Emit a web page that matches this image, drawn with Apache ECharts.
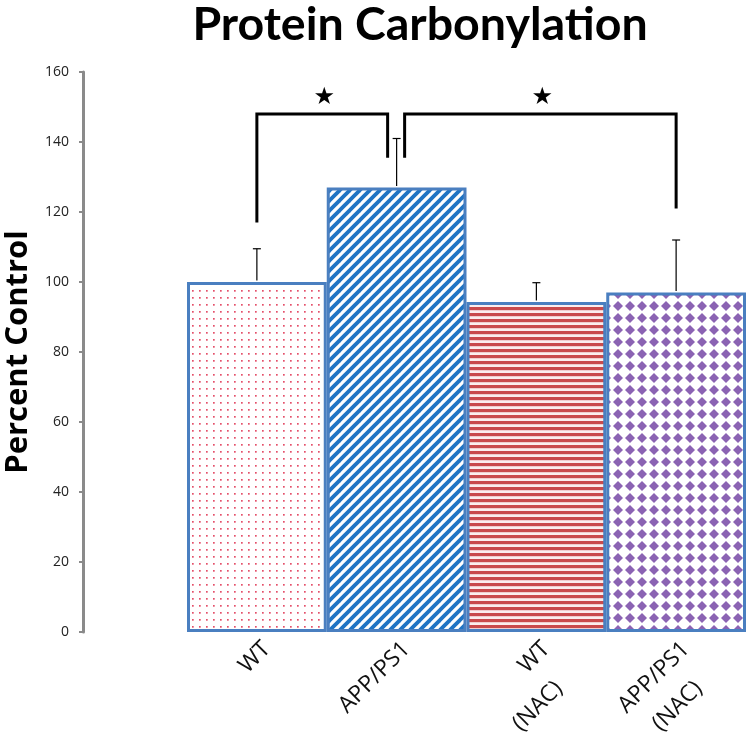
<!DOCTYPE html>
<html>
<head>
<meta charset="utf-8">
<script src="https://cdn.jsdelivr.net/npm/echarts@6/dist/echarts.min.js"></script>
<style>html,body{margin:0;padding:0;background:#fff}#c{width:750px;height:745px}</style>
</head>
<body>
<div id="c"></div>
<script>
// ---- data ----
const categories = ['WT', 'APP/PS1', 'WT\n(NAC)', 'APP/PS1\n(NAC)'];
const values = [100, 127, 94.3, 97];
const errors = [9.5, 14, 5.5, 15];
const yTicks = [0, 20, 40, 60, 80, 100, 120, 140, 160];
// brackets: [fromCat, toCat, leftLegBottom, top, rightLegBottom]
const brackets = [[0, 1, 117, 148, 135.5], [1, 3, 135.5, 148, 121]];
const bracketLabels = ['★', '★'];

// ---- patterns (style) ----
function mk(w, h, draw) {
  const c = document.createElement('canvas'); c.width = w; c.height = h;
  const g = c.getContext('2d'); g.fillStyle = '#fff'; g.fillRect(0, 0, w, h); draw(g); return c;
}
const pDots = mk(7, 7, g => { g.fillStyle = '#e4506a'; g.fillRect(3, 3, 1.7, 1.7); });
const pDiag = mk(10, 10, g => {
  g.strokeStyle = '#1f74c4'; g.lineWidth = 3.8; g.lineCap = 'square';
  [-10, 0, 10].forEach(ox => { g.beginPath(); g.moveTo(ox - 3, 13); g.lineTo(ox + 13, -3); g.stroke(); });
});
const pHoriz = mk(4, 6, g => { g.fillStyle = '#fbeeee'; g.fillRect(0, 0, 4, 6); g.fillStyle = '#c94a4c'; g.fillRect(0, 1, 4, 3.2); });
const pDiam = mk(12, 12, g => {
  g.fillStyle = '#8b63b3'; g.beginPath(); g.moveTo(6, 1); g.lineTo(11, 6); g.lineTo(6, 11); g.lineTo(1, 6); g.closePath(); g.fill();
});
const patterns = [pDots, pDiag, pHoriz, pDiam];

const chart = echarts.init(document.getElementById('c'), null, { renderer: 'canvas' });
const bracketInsets = [[0, -9], [8, 0]];

chart.setOption({
  animation: false,
  title: {
    text: 'Protein Carbonylation', left: 415, top: -4, textAlign: 'center',
    textStyle: { fontFamily: 'Lato', fontWeight: 'bold', fontSize: 46.5, color: '#000' }
  },
  grid: { left: 187, right: 4, top: 72, bottom: 113, outerBoundsMode: 'none', containLabel: false },
  xAxis: {
    type: 'category', data: categories,
    axisLine: { show: false }, axisTick: { show: false },
    axisLabel: {
      rotate: 45, interval: 0, margin: 5, padding: [0, -1, 0, 0], verticalAlign: 'top',
      formatter: v => v.split('\n').map((s, k) => (k === 0 ? '{a|' : '{b|') + s + '}').join('\n'),
      rich: {
        a: { fontSize: 23, color: '#111', fontFamily: 'Open Sans', lineHeight: 26 },
        b: { fontSize: 23, color: '#111', fontFamily: 'Open Sans', lineHeight: 48, padding: [0, 19, 0, 0] }
      }
    }
  },
  yAxis: {
    type: 'value', min: 0, max: 160, interval: 20, offset: 104,
    name: 'Percent Control', nameLocation: 'middle', nameGap: 42,
    nameTextStyle: { fontFamily: 'Open Sans', fontWeight: 'bold', fontSize: 31, color: '#000' },
    axisLine: { show: true, lineStyle: { color: '#8a8a8a', width: 3 } },
    axisTick: { show: true, length: 4, lineStyle: { color: '#8a8a8a', width: 2 } },
    axisLabel: { fontSize: 14, color: '#222', fontFamily: 'Open Sans', margin: 14,
      formatter: v => yTicks.includes(v) ? String(v) : '' },
    splitLine: { show: false }
  },
  series: [
    {
      type: 'bar', barCategoryGap: '0%', z: 2,
      data: values.map((v, i) => ({
        value: v,
        itemStyle: { color: { image: patterns[i], repeat: 'repeat' }, borderColor: '#4a7fc0', borderWidth: 3 }
      }))
    },
    {
      type: 'custom', z: 3,
      data: values.map((v, i) => [i, v, v + errors[i]]),
      renderItem: (params, api) => {
        const b = api.coord([api.value(0), api.value(1)]);
        const t = api.coord([api.value(0), api.value(2)]);
        return { type: 'group', children: [
          { type: 'line', shape: { x1: b[0], y1: b[1] - 1.5, x2: t[0], y2: t[1] }, style: { stroke: '#000', lineWidth: 1.2 } },
          { type: 'line', shape: { x1: t[0] - 4, y1: t[1], x2: t[0] + 4, y2: t[1] }, style: { stroke: '#000', lineWidth: 1.2 } }
        ] };
      }
    },
    {
      type: 'custom', z: 4,
      data: brackets,
      renderItem: (params, api) => {
        const i = params.dataIndex;
        const l = api.coord([api.value(0), api.value(2)]);
        const r = api.coord([api.value(1), api.value(4)]);
        const top = api.coord([api.value(0), api.value(3)])[1];
        const x1 = l[0] + bracketInsets[i][0], x2 = r[0] + bracketInsets[i][1];
        return { type: 'group', children: [
          { type: 'polyline', shape: { points: [[x1, l[1]], [x1, top], [x2, top], [x2, r[1]]] },
            style: { stroke: '#000', lineWidth: 3, fill: null } },
          { type: 'text', x: (x1 + x2) / 2 + 2, y: top - 4,
            style: { text: bracketLabels[i], fontSize: 24, fill: '#000', align: 'center', verticalAlign: 'bottom', fontFamily: 'DejaVu Sans' } }
        ] };
      }
    }
  ]
});
</script>
</body>
</html>
